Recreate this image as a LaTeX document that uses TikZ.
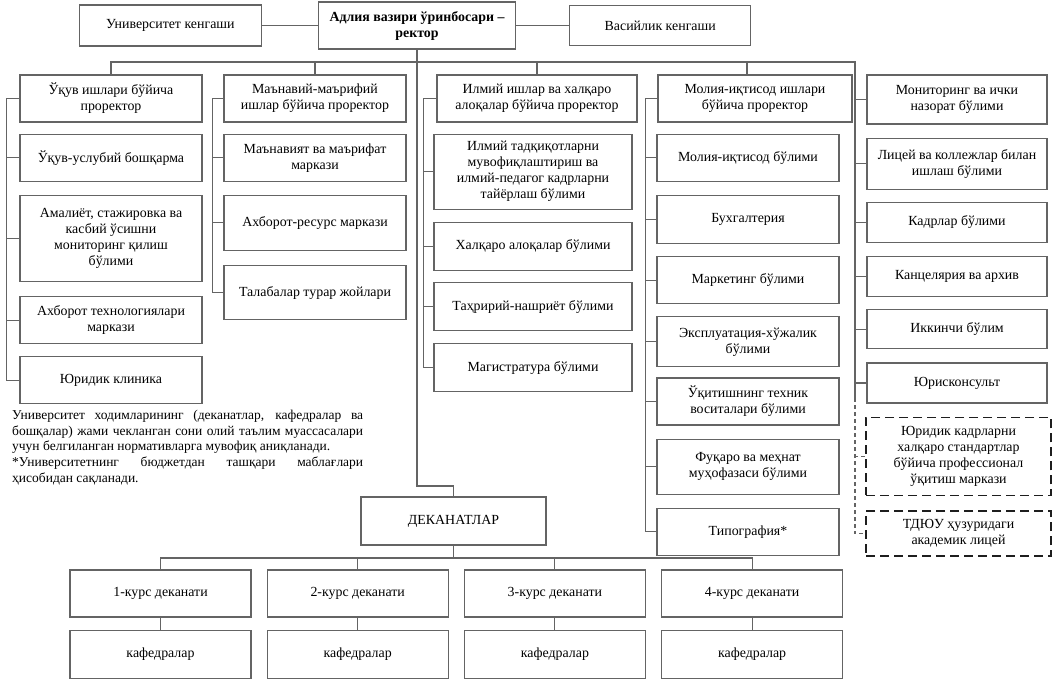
\documentclass[tikz,border=0pt]{standalone}
\usepackage{fontspec}
\setmainfont{Liberation Serif}
\usetikzlibrary{positioning}
\definecolor{framegray}{RGB}{100,100,100}
\definecolor{dashblack}{RGB}{30,30,30}

\begin{document}
\begin{tikzpicture}[x=1pt, y=-1pt,
  unitbox/.style={draw=framegray, line width=1.2pt, rectangle, align=center,
    inner sep=2pt, minimum height=47pt, font=\fontsize{13.9}{16}\selectfont},
  lawbox/.style={unitbox, draw=dashblack, line width=1.7pt,
    dash pattern=on 9pt off 5pt, minimum width=185pt},
  link/.style={draw=framegray, line width=1.1pt},
  dashlink/.style={link, dash pattern=on 4pt off 3pt}
]
\useasboundingbox (0,0) rectangle (1052,681);

% top row
\node[unitbox, minimum width=197pt, font=\bfseries\fontsize{13.9}{16}\selectfont] (rector) at (417,25.5)
  {Адлия вазири ўринбосари –\\ректор};
\node[unitbox, minimum width=182pt, minimum height=41pt, left=56pt of rector] (univ) {Университет кенгаши};
\node[unitbox, minimum width=181pt, minimum height=40pt, right=53pt of rector] (vasil) {Васийлик кенгаши};

% first pro-rector
\node[unitbox, minimum width=182pt] (ukuv) at (111,98.5) {Ўқув ишлари бўйича\\проректор};
\node[unitbox, minimum width=182pt, below=11pt of ukuv] (uslub) {Ўқув-услубий бошқарма};
\node[unitbox, minimum width=182pt, minimum height=86pt, below=13pt of uslub] (amaliyot)
  {Амалиёт, стажировка ва\\касбий ўсишни\\мониторинг қилиш\\бўлими};
\node[unitbox, minimum width=182pt, below=14pt of amaliyot] (axtex) {Ахборот технологиялари\\маркази};
\node[unitbox, minimum width=182pt, below=12pt of axtex] (klinika) {Юридик клиника};

% second pro-rector
\node[unitbox, minimum width=182pt] (manaviy) at (315,98.5) {Маънавий-маърифий\\ишлар бўйича проректор};
\node[unitbox, minimum width=182pt, below=11pt of manaviy] (markaz) {Маънавият ва маърифат\\маркази};
\node[unitbox, minimum width=182pt, minimum height=55pt, below=13pt of markaz] (axres) {Ахборот-ресурс маркази};
\node[unitbox, minimum width=182pt, minimum height=54pt, below=14pt of axres] (turar) {Талабалар турар жойлари};

% third pro-rector
\node[unitbox, minimum width=200pt] (ilmiy) at (537,98.5) {Илмий ишлар ва халқаро\\алоқалар бўйича проректор};
\node[unitbox, minimum width=198pt, minimum height=75pt, below=11pt of ilmiy, xshift=-4pt] (tadqiq)
  {Илмий тадқиқотларни\\мувофиқлаштириш ва\\илмий-педагог кадрларни\\тайёрлаш бўлими};
\node[unitbox, minimum width=198pt, minimum height=48pt, below=12pt of tadqiq] (xalqaro) {Халқаро алоқалар бўлими};
\node[unitbox, minimum width=198pt, minimum height=48pt, below=11pt of xalqaro] (taxrir) {Таҳририй-нашриёт бўлими};
\node[unitbox, minimum width=198pt, minimum height=48pt, below=12pt of taxrir] (magistr) {Магистратура бўлими};

% fourth pro-rector
\node[unitbox, minimum width=194pt] (moliya) at (755,98.5) {Молия-иқтисод ишлари\\бўйича проректор};
\node[unitbox, minimum width=182pt, below=11pt of moliya, xshift=-7pt] (mbulim) {Молия-иқтисод бўлими};
\node[unitbox, minimum width=182pt, minimum height=48pt, below=13pt of mbulim] (buxg) {Бухгалтерия};
\node[unitbox, minimum width=182pt, below=12pt of buxg] (market) {Маркетинг бўлими};
\node[unitbox, minimum width=182pt, minimum height=50pt, below=12pt of market] (ekspl) {Эксплуатация-хўжалик\\бўлими};
\node[unitbox, minimum width=182pt, below=10pt of ekspl] (texnik) {Ўқитишнинг техник\\воситалари бўлими};
\node[unitbox, minimum width=182pt, minimum height=55pt, below=13pt of texnik] (fuqaro) {Фуқаро ва меҳнат\\муҳофазаси бўлими};
\node[unitbox, minimum width=182pt, below=13pt of fuqaro] (tipogr) {Типография*};

% right column
\node[unitbox, minimum width=180pt, minimum height=49pt] (monitor) at (957,99.5) {Мониторинг ва ички\\назорат бўлими};
\node[unitbox, minimum width=180pt, minimum height=51pt, below=13pt of monitor] (litsey) {Лицей ва коллежлар билан\\ишлаш бўлими};
\node[unitbox, minimum width=180pt, minimum height=40pt, below=12pt of litsey] (kadr) {Кадрлар бўлими};
\node[unitbox, minimum width=180pt, minimum height=40pt, below=13pt of kadr] (kants) {Канцелярия ва архив};
\node[unitbox, minimum width=180pt, minimum height=39pt, below=12pt of kants] (ikkinchi) {Иккинчи бўлим};
\node[unitbox, minimum width=180pt, minimum height=40pt, below=13pt of ikkinchi] (jurist) {Юрисконсульт};
\node[lawbox, minimum height=78pt, below=13pt of jurist, xshift=1.5pt] (lawctr)
  {Юридик кадрларни\\халқаро стандартлар\\бўйича профессионал\\ўқитиш маркази};
\node[lawbox, minimum height=45pt, below=14pt of lawctr] (lyceum) {ТДЮУ ҳузуридаги\\академик лицей};

% deans
\node[unitbox, minimum width=185pt, minimum height=48pt] (dekanat) at (453.5,521) {ДЕКАНАТЛАР};
\node[unitbox, minimum width=181pt] (kurs1) at (160.5,593.5) {1-курс деканати};
\node[unitbox, minimum width=181pt, right=15pt of kurs1] (kurs2) {2-курс деканати};
\node[unitbox, minimum width=181pt, right=15pt of kurs2] (kurs3) {3-курс деканати};
\node[unitbox, minimum width=181pt, right=15pt of kurs3] (kurs4) {4-курс деканати};
\node[unitbox, minimum width=181pt, minimum height=48pt, below=12pt of kurs1] (kaf1) {кафедралар};
\node[unitbox, minimum width=181pt, minimum height=48pt, below=12pt of kurs2] (kaf2) {кафедралар};
\node[unitbox, minimum width=181pt, minimum height=48pt, below=12pt of kurs3] (kaf3) {кафедралар};
\node[unitbox, minimum width=181pt, minimum height=48pt, below=12pt of kurs4] (kaf4) {кафедралар};

% note
\node[anchor=north west, inner sep=0pt, text width=351pt, align=justify,
  font=\fontsize{13.5}{15.7}\selectfont] (izoh) at (12,410)
  {Университет ходимларининг (деканатлар, кафедралар ва\linebreak
   бошқалар) жами чекланган сони олий таълим муассасалари\linebreak
   учун белгиланган нормативларга мувофиқ аниқланади.\\{}*Университетнинг бюджетдан ташқари маблағлари\linebreak
   ҳисобидан сақланади.};

% connectors
\coordinate (barL) at (110,62);
\coordinate (barR) at (855,62);
\coordinate (dashtop) at (855,398);
\coordinate (jog) at (417,486);
\coordinate (dbar) at (453.5,558);

\draw[link] (univ) -- (rector);
\draw[link] (rector) -- (vasil);
\draw[link] (rector.south) -- (jog) -| (dekanat.north);
\draw[link] (barL) -- (barR) -- (dashtop);
\draw[link] (ukuv.north) -- (ukuv.north |- barL);
\draw[link] (manaviy.north) -- (manaviy.north |- barL);
\draw[link] (ilmiy.north) -- (ilmiy.north |- barL);
\draw[link] (moliya.north) ++(-8,0) -- ++(0,-13);

\draw[link] (ukuv.west) -- ++(-12.5,0) |- (klinika.west)
  (uslub.west) -- ++(-12.5,0)
  (amaliyot.west) -- ++(-12.5,0)
  (axtex.west) -- ++(-12.5,0);
\draw[link] (manaviy.west) -- ++(-11,0) |- (turar.west)
  (markaz.west) -- ++(-11,0)
  (axres.west) -- ++(-11,0);
\draw[link] (ilmiy.west) -- ++(-12.5,0) |- (magistr.west)
  (tadqiq.west) -- ++(-9.5,0)
  (xalqaro.west) -- ++(-9.5,0)
  (taxrir.west) -- ++(-9.5,0);
\draw[link] (moliya.west) -- ++(-11.5,0) |- (tipogr.west)
  (mbulim.west) -- ++(-10.5,0)
  (buxg.west) -- ++(-10.5,0)
  (market.west) -- ++(-10.5,0)
  (ekspl.west) -- ++(-10.5,0)
  (texnik.west) -- ++(-10.5,0)
  (fuqaro.west) -- ++(-10.5,0);
\draw[link] (monitor.west) -- (monitor.west -| barR)
  (litsey.west) -- (litsey.west -| barR)
  (kadr.west) -- (kadr.west -| barR)
  (kants.west) -- (kants.west -| barR)
  (ikkinchi.west) -- (ikkinchi.west -| barR)
  (jurist.west) -- (jurist.west -| barR);
\draw[dashlink] (dashtop) |- (lyceum.west)
  (lawctr.west) -- (lawctr.west -| dashtop);

\draw[link] (dekanat.south) -- (dbar);
\draw[link] (kurs1.north) |- (dbar) (kurs2.north) |- (dbar)
  (kurs3.north) |- (dbar) (kurs4.north) |- (dbar);
\draw[link] (kurs1) -- (kaf1) (kurs2) -- (kaf2) (kurs3) -- (kaf3) (kurs4) -- (kaf4);
\end{tikzpicture}
\end{document}
